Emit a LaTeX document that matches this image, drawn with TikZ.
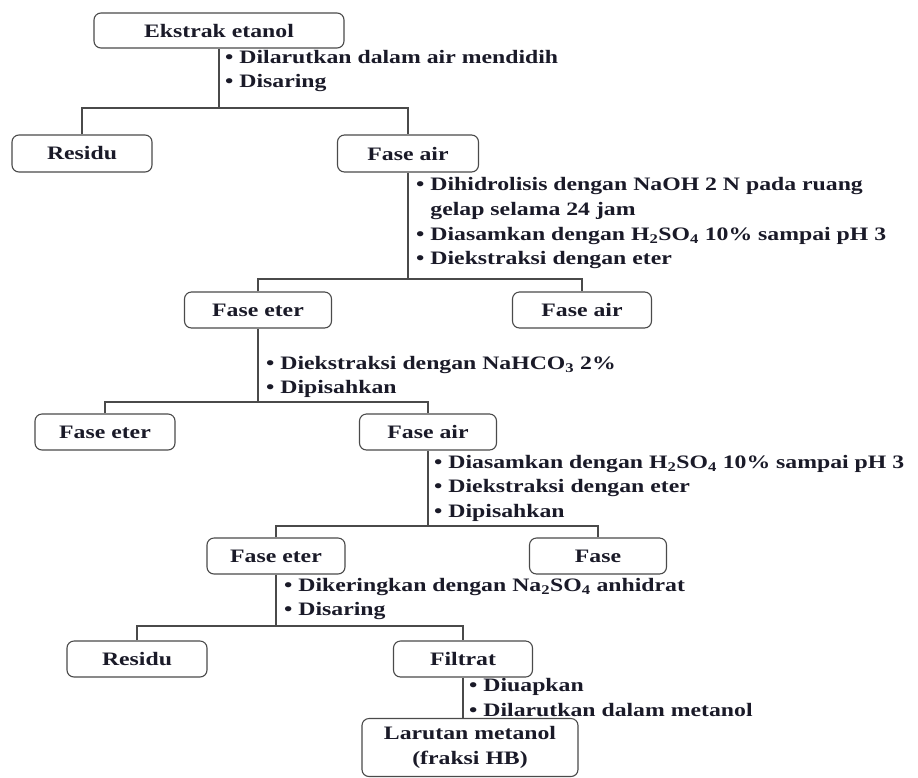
\documentclass[tikz,border=0pt]{standalone}
\usepackage{fontspec}
\setmainfont{Liberation Serif}[FakeStretch=1.25]
\usetikzlibrary{positioning}
\definecolor{ink}{HTML}{1A1A28}
\definecolor{wire}{HTML}{4A4A4A}

\begin{document}
\begin{tikzpicture}[
    x=1pt, y=-1pt,
    font=\fontsize{19}{24.5}\selectfont\bfseries,
    text=ink,
    box/.style={draw=wire, line width=1.1pt, rectangle, rounded corners=7pt, fill=white, minimum height=36pt, inner sep=0pt, align=center},
    note/.style={anchor=north west, inner sep=0pt, align=left},
    link/.style={draw=wire, line width=1.1pt}
  ]
  \useasboundingbox (0,0) rectangle (918,777);

  % boxes
  \node[box, minimum width=250pt, minimum height=35pt] (ekstrak) at (219,30.5) {Ekstrak etanol};
  \node[box, minimum width=140pt, minimum height=37pt] (residuA) at (82,153.5) {Residu};
  \node[box, minimum width=141pt, minimum height=37pt] (airA) at (408,153.5) {Fase air};
  \node[box, minimum width=147pt] (eterA) at (258,310) {Fase eter};
  \node[box, minimum width=139pt] (airB) at (582,310) {Fase air};
  \node[box, minimum width=140pt] (eterB) at (105,432) {Fase eter};
  \node[box, minimum width=137pt] (airC) at (428,432) {Fase air};
  \node[box, minimum width=138pt] (eterC) at (276,556) {Fase eter};
  \node[box, minimum width=137pt] (fase) at (598,556) {Fase};
  \node[box, minimum width=140pt] (residuB) at (137,659) {Residu};
  \node[box, minimum width=139pt] (filtrat) at (463,659) {Filtrat};
  \node[box, minimum width=216pt, minimum height=58pt] (larutan) at (470,747.5) {Larutan metanol\\(fraksi HB)};

  % split levels
  \coordinate (barA) at (0,108);
  \coordinate (barB) at (0,279);
  \coordinate (barC) at (0,402);
  \coordinate (barD) at (0,526);
  \coordinate (barE) at (0,626);

  % connectors
  \draw[link] (ekstrak.south) -- (ekstrak.south |- barA);
  \draw[link] (residuA.north) |- (ekstrak.south |- barA) -| (airA.north);
  \draw[link] (airA.south) -- (airA.south |- barB);
  \draw[link] (eterA.north) |- (airA.south |- barB) -| (airB.north);
  \draw[link] (eterA.south) -- (eterA.south |- barC);
  \draw[link] (eterB.north) |- (eterA.south |- barC) -| (airC.north);
  \draw[link] (airC.south) -- (airC.south |- barD);
  \draw[link] (eterC.north) |- (airC.south |- barD) -| (fase.north);
  \draw[link] (eterC.south) -- (eterC.south |- barE);
  \draw[link] (residuB.north) |- (eterC.south |- barE) -| (filtrat.north);
  \draw[link] (filtrat.south) -- (filtrat.south |- larutan.north);

  % treatment notes
  \node[note] (stepA) at (225,50) {\textbullet\ Dilarutkan dalam air mendidih\\\textbullet\ Disaring};
  \node[note] (stepB) at (416,177) {\textbullet\ Dihidrolisis dengan NaOH 2 N pada ruang\\[1pt]
    \phantom{\textbullet\ }gelap selama 24 jam\\
    \textbullet\ Diasamkan dengan H\textsubscript{2}SO\textsubscript{4} 10\% sampai pH 3\\
    \textbullet\ Diekstraksi dengan eter};
  \node[note] (stepC) at (266,356) {\textbullet\ Diekstraksi dengan NaHCO\textsubscript{3} 2\%\\\textbullet\ Dipisahkan};
  \node[note] (stepD) at (434,455) {\textbullet\ Diasamkan dengan H\textsubscript{2}SO\textsubscript{4} 10\% sampai pH 3\\
    \textbullet\ Diekstraksi dengan eter\\
    \textbullet\ Dipisahkan};
  \node[note] (stepE) at (284,578) {\textbullet\ Dikeringkan dengan Na\textsubscript{2}SO\textsubscript{4} anhidrat\\\textbullet\ Disaring};
  \node[note] (stepF) at (469,678) {\textbullet\ Diuapkan\\[1pt]\textbullet\ Dilarutkan dalam metanol};

\end{tikzpicture}
\end{document}
